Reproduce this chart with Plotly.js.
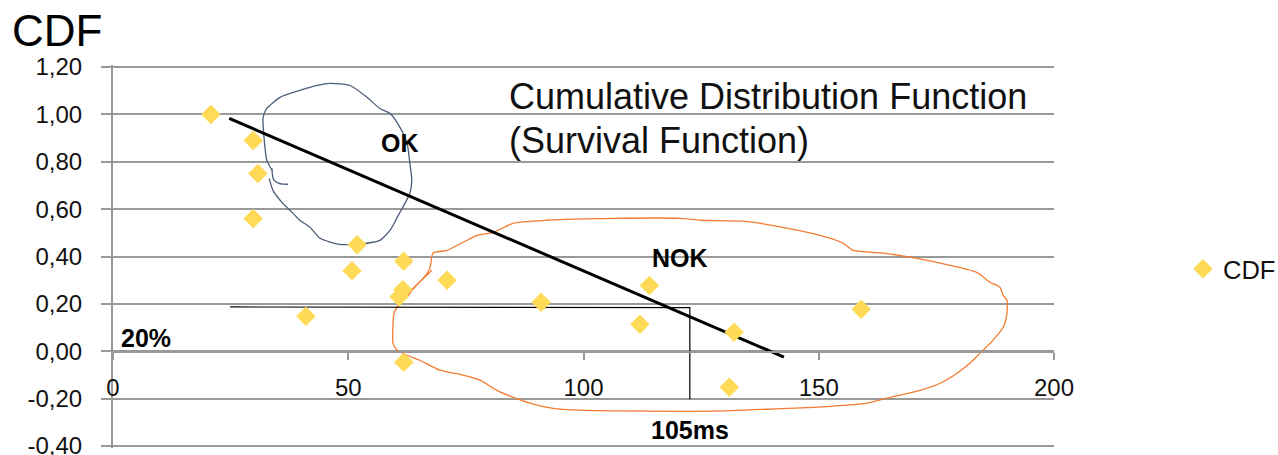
<!DOCTYPE html>
<html>
<head>
<meta charset="utf-8">
<script src="https://cdn.plot.ly/plotly-3.0.1.min.js"></script>
<style>html,body{margin:0;padding:0;background:#fff;}#chart{width:1278px;height:455px;}</style>
</head>
<body>
<div id="chart"></div>
<script>
// Scatter data (CDF points)
const cdfX = [20.8, 29.8, 30.8, 29.8, 51.9, 50.8, 61.8, 61.6, 60.8, 61.8, 41.0, 71.0, 91.0, 112.0, 114.0, 132.0, 131.0, 159.0];
const cdfY = [1.00, 0.89, 0.75, 0.56, 0.45, 0.34, 0.38, 0.26, 0.23, -0.046, 0.148, 0.30, 0.207, 0.114, 0.278, 0.08, -0.152, 0.177];

// Hand-drawn straight line (trend)
const trendX = [24.7, 142.6];
const trendY = [0.983, -0.025];

// Thin guide line (20% / 105ms)
const guideX = [24.9, 122.6, 122.6];
const guideY = [0.187, 0.184, -0.203];

// Hand-drawn "OK" loop
const okX = [33.8, 32.7, 32.1, 31.9, 32.7, 35.5, 39.7, 43.4, 46.1, 50.4, 54.0, 56.7, 58.9, 61.0, 62.5, 63.1, 63.5, 63.1, 61.6, 60.4, 58.9, 56.7, 54.0, 48.2, 44.0, 41.9, 39.7, 38.3, 36.1, 34.0, 33.2];
const okY = [0.764, 0.806, 0.903, 0.987, 1.025, 1.072, 1.101, 1.122, 1.131, 1.122, 1.072, 1.025, 1.004, 0.945, 0.878, 0.793, 0.722, 0.667, 0.608, 0.565, 0.511, 0.468, 0.456, 0.451, 0.477, 0.523, 0.553, 0.582, 0.624, 0.679, 0.730];
const okTailX = [33.8, 34.2, 35.3, 37.2];
const okTailY = [0.772, 0.722, 0.709, 0.705];

// Hand-drawn "NOK" loop
const nokX = [67.8, 62.1, 60.4, 59.7, 59.5, 59.5, 60.4, 62.5, 65.2, 69.5, 74.4, 78.0, 81.6, 85.0, 88.6, 93.5, 99.3, 113.5, 127.5, 139.0, 149.6, 160.3, 164.5, 171.5, 175.8, 179.4, 182.1, 184.3, 187.0, 189.2, 190.0, 190.0, 189.2, 188.5, 186.4, 183.6, 177.9, 170.9, 163.7, 157.3, 155.2, 151.8, 142.4, 133.9, 124.8, 120.5, 106.3, 92.2, 85.0, 80.8, 77.4, 74.4, 71.0, 68.0, 67.4, 66.5, 63.5, 62.7];
const nokY = [0.342, 0.232, 0.186, 0.160, 0.101, 0.034, 0.004, -0.017, -0.038, -0.080, -0.101, -0.122, -0.165, -0.194, -0.219, -0.241, -0.249, -0.253, -0.253, -0.245, -0.236, -0.219, -0.198, -0.165, -0.135, -0.093, -0.051, -0.008, 0.046, 0.101, 0.160, 0.215, 0.236, 0.270, 0.291, 0.333, 0.363, 0.392, 0.414, 0.426, 0.456, 0.481, 0.523, 0.549, 0.553, 0.561, 0.561, 0.553, 0.540, 0.502, 0.489, 0.460, 0.426, 0.414, 0.354, 0.321, 0.257, 0.232];

// Axis ticks
const yTickVals = [-0.4, -0.2, 0, 0.2, 0.4, 0.6, 0.8, 1.0, 1.2];
const yTickText = ["-0,40", "-0,20", "0,00", "0,20", "0,40", "0,60", "0,80", "1,00", "1,20"];
const xTickVals = [0, 50, 100, 150, 200];
const xTickText = ["0", "50", "100", "150", "200"];

const FONT = "Liberation Sans, Arial, Helvetica, sans-serif";
const GRID = "#999999";

const traces = [
  {x: okX, y: okY, mode: "lines", line: {color: "#4B5D7A", width: 1.3, shape: "spline", smoothing: 0.6}, showlegend: false, hoverinfo: "skip"},
  {x: okTailX, y: okTailY, mode: "lines", line: {color: "#4B5D7A", width: 1.3, shape: "spline"}, showlegend: false, hoverinfo: "skip"},
  {x: nokX, y: nokY, mode: "lines", line: {color: "#F47B30", width: 1.3, shape: "spline", smoothing: 0.6}, showlegend: false, hoverinfo: "skip"},
  {x: guideX, y: guideY, mode: "lines", line: {color: "#000000", width: 1.2}, showlegend: false, hoverinfo: "skip"},
  {x: trendX, y: trendY, mode: "lines", line: {color: "#000000", width: 3}, showlegend: false, hoverinfo: "skip"},
  {x: cdfX, y: cdfY, mode: "markers", name: "CDF", marker: {symbol: "diamond", size: 15, color: "#FFDA57"}}
];

const layout = {
  width: 1278, height: 455,
  margin: {l: 113, r: 224, t: 65, b: 7, pad: 0, autoexpand: false},
  paper_bgcolor: "#ffffff", plot_bgcolor: "#ffffff",
  font: {family: FONT, color: "#111111"},
  title: {text: "CDF", x: 12/1278, xanchor: "left", xref: "container", y: 1 - 31/455, yanchor: "middle", yref: "container", font: {size: 44, family: FONT, color: "#000"}},
  showlegend: true,
  legend: {x: 1183/1278, xref: "container", xanchor: "left", y: 0.467, yanchor: "middle", font: {size: 25.5, family: FONT, color: "#111"}, bgcolor: "rgba(0,0,0,0)"},
  xaxis: {
    range: [0, 200], showgrid: false, zeroline: false, automargin: false,
    anchor: "free", position: 0.25,
    showline: true, linecolor: GRID, linewidth: 2,
    ticks: "outside", ticklen: 7, tickcolor: GRID, tickwidth: 2,
    tickvals: xTickVals, ticktext: xTickText,
    tickfont: {size: 24, family: FONT, color: "#111"},
    ticklabelstandoff: 7, ticklabeloverflow: "allow"
  },
  yaxis: {
    range: [-0.4085, 1.2085], showgrid: true, gridcolor: GRID, gridwidth: 2, zeroline: false, automargin: false,
    showline: true, linecolor: GRID, linewidth: 2,
    ticks: "outside", ticklen: 10, tickcolor: GRID, tickwidth: 2,
    tickvals: yTickVals, ticktext: yTickText,
    tickfont: {size: 24, family: FONT, color: "#111"},
    ticklabelstandoff: 14, ticklabeloverflow: "allow"
  },
  annotations: [
    {x: 83.7, y: 1.076, xref: "x", yref: "y", text: "Cumulative Distribution Function", showarrow: false, xanchor: "left", yanchor: "middle", font: {size: 36, family: FONT, color: "#111"}},
    {x: 83.7, y: 0.890, xref: "x", yref: "y", text: "(Survival Function)", showarrow: false, xanchor: "left", yanchor: "middle", font: {size: 36, family: FONT, color: "#111"}},
    {x: 61.0, y: 0.878, xref: "x", yref: "y", text: "<b>OK</b>", showarrow: false, font: {size: 25, family: FONT, color: "#000"}},
    {x: 120.5, y: 0.392, xref: "x", yref: "y", text: "<b>NOK</b>", showarrow: false, font: {size: 25, family: FONT, color: "#000"}},
    {x: 7.0, y: 0.055, xref: "x", yref: "y", text: "<b>20%</b>", showarrow: false, font: {size: 25, family: FONT, color: "#000"}},
    {x: 122.6, y: -0.333, xref: "x", yref: "y", text: "<b>105ms</b>", showarrow: false, font: {size: 25, family: FONT, color: "#000"}}
  ],
  hovermode: false
};

Plotly.newPlot("chart", traces, layout, {displayModeBar: false, staticPlot: true});
</script>
</body>
</html>
